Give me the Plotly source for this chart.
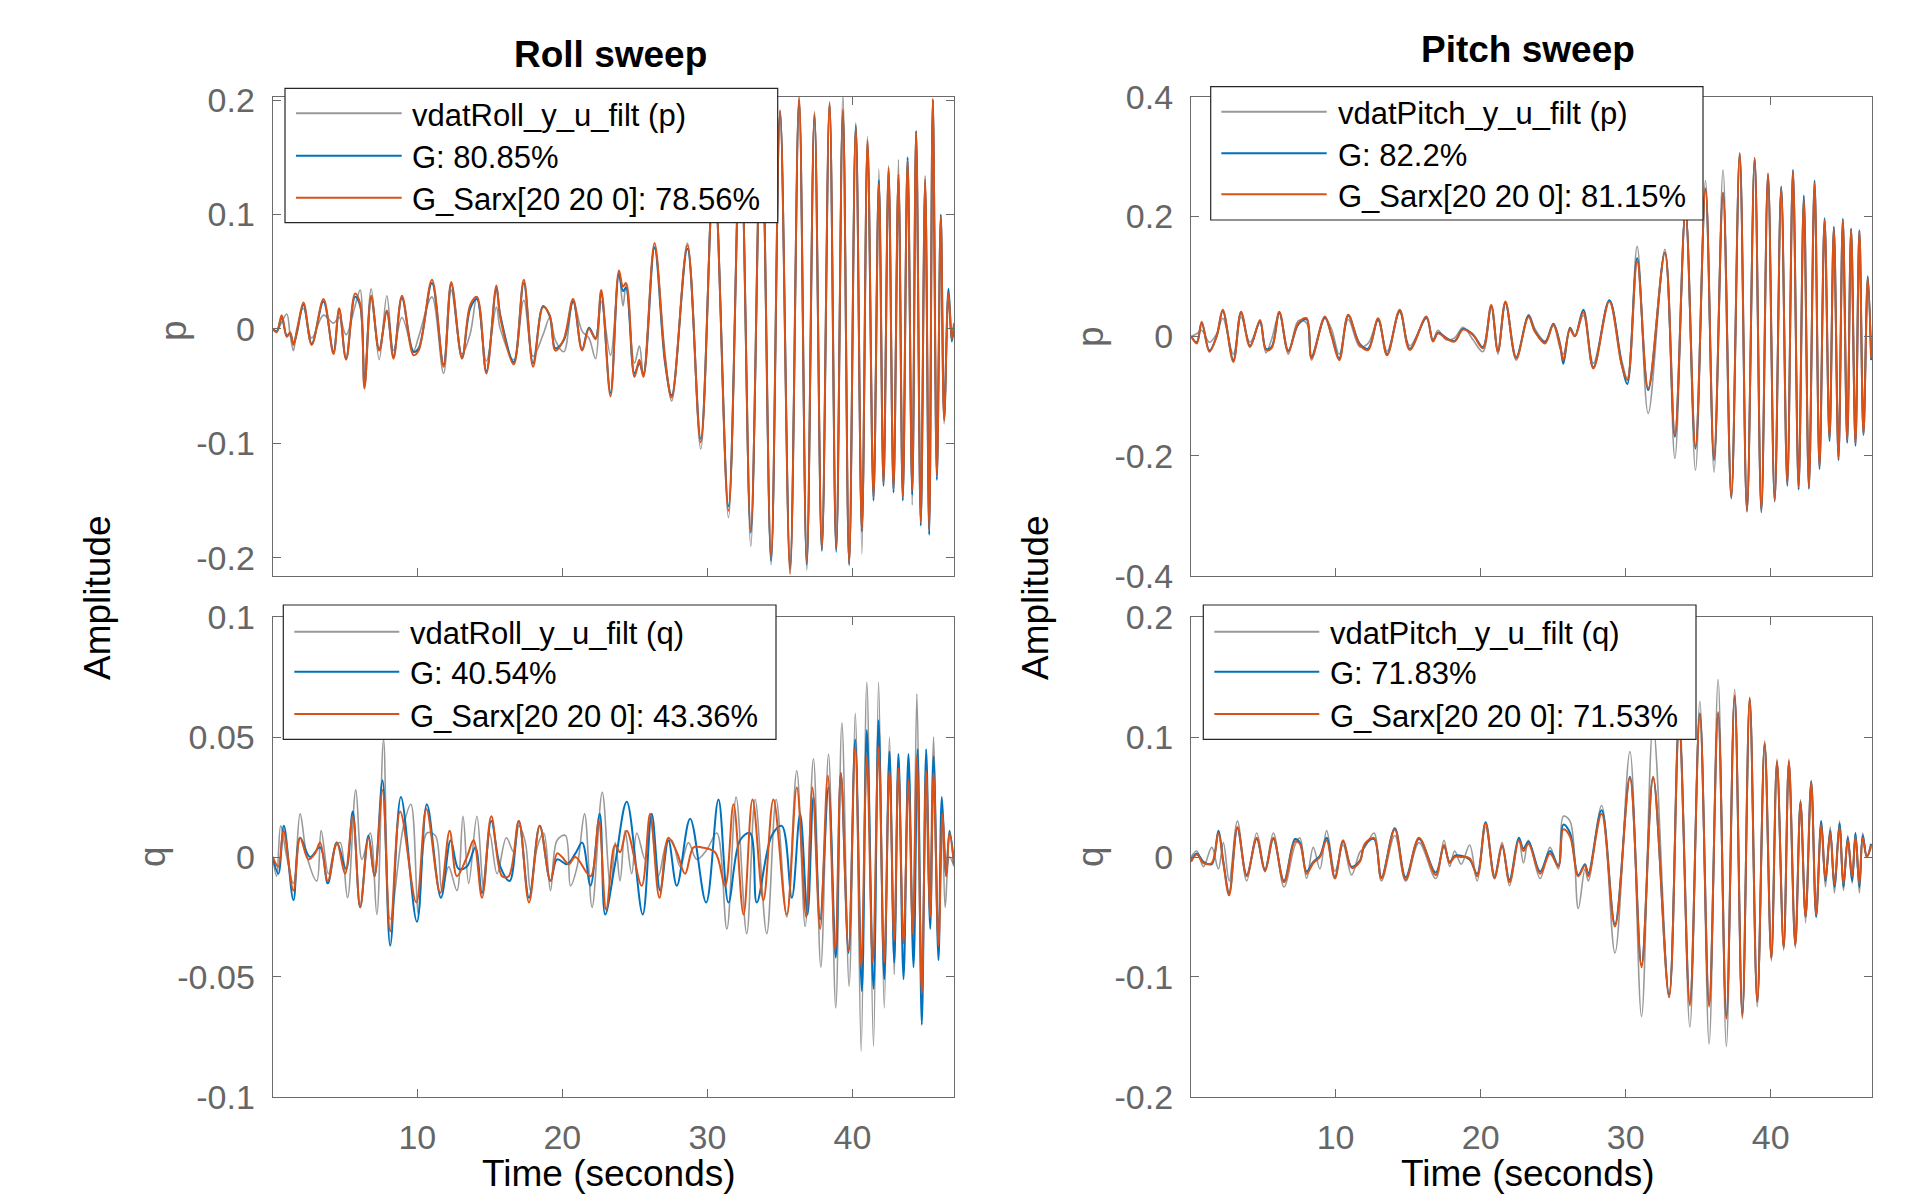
import plotly.graph_objects as go

# ---------------- data ----------------
# Roll sweep, output p
ROLL_P_T = [0.03, 0.31, 0.65, 1.0, 1.23, 1.46, 1.69, 2.15, 2.72, 3.53,
            4.22, 4.61, 5.09, 5.71, 6.06, 6.36, 6.82, 7.37, 7.9, 8.36,
            8.94, 9.74, 10.09, 11.01, 11.81, 12.34, 13.08, 13.65, 14.11, 14.76,
            15.45, 15.72, 16.65, 17.34, 17.98, 18.67, 19.13, 19.52, 20.1, 20.74,
            21.36, 21.83, 22.29, 22.68, 23.32, 23.9, 24.18, 24.39, 24.97, 25.31,
            25.59, 26.35, 27.08, 27.54, 28.62, 29.54, 30.45, 31.45, 32.28, 32.99,
            33.72, 34.39, 35.01, 35.7, 36.32, 36.85, 37.38, 37.89, 38.42, 38.88,
            39.34, 39.77, 40.23, 40.65, 41.04, 41.45, 41.82, 42.14, 42.49, 42.83,
            43.17, 43.47, 43.8, 44.12, 44.39, 44.71, 45.01, 45.29, 45.54, 45.82,
            46.09, 46.32, 46.62, 46.85, 47.0]
ROLL_P_DATA = [0.0, -0.002, 0.006, 0.013, -0.005, -0.019, 0.0, 0.018, -0.008, 0.012,
               0.005, 0.01, -0.005, 0.02, 0.034, -0.042, 0.035, -0.027, 0.029, -0.019,
               0.01, -0.019, -0.007, 0.028, -0.039, 0.034, -0.022, -0.004, 0.028, -0.028,
               0.019, 0.0, -0.027, 0.025, -0.024, -0.005, 0.01, -0.01, -0.02, 0.024,
               -0.002, -0.008, -0.026, 0.024, -0.023, 0.048, 0.02, 0.038, -0.03, -0.015,
               -0.04, 0.072, -0.022, -0.063, 0.075, -0.105, 0.15, -0.165, 0.18, -0.19,
               0.19, -0.206, 0.19, -0.21, 0.2, -0.211, 0.19, -0.194, 0.197, -0.193,
               0.205, -0.207, 0.18, -0.197, 0.168, -0.146, 0.14, -0.138, 0.143, -0.137,
               0.148, -0.147, 0.149, -0.154, 0.173, -0.165, 0.134, -0.175, 0.2, -0.125,
               0.098, -0.083, 0.03, -0.01, 0.003]
ROLL_P_G = [0.0, -0.002, 0.01, -0.006, -0.004, -0.013, -0.004, 0.021, -0.013, 0.024,
            -0.02, 0.017, -0.026, 0.028, 0.02, -0.05, 0.027, -0.018, 0.015, -0.024,
            0.027, -0.02, -0.017, 0.04, -0.031, 0.039, -0.025, 0.018, 0.026, -0.037,
            0.035, 0.012, -0.029, 0.04, -0.03, 0.02, 0.011, -0.017, -0.01, 0.024,
            -0.018, 0.001, -0.008, 0.031, -0.056, 0.048, 0.033, 0.036, -0.039, -0.03,
            -0.04, 0.071, -0.03, -0.058, 0.07, -0.096, 0.14, -0.155, 0.17, -0.178,
            0.19, -0.203, 0.19, -0.21, 0.2, -0.206, 0.186, -0.194, 0.196, -0.195,
            0.19, -0.206, 0.178, -0.177, 0.162, -0.15, 0.13, -0.137, 0.138, -0.143,
            0.132, -0.15, 0.15, -0.145, 0.173, -0.172, 0.128, -0.18, 0.2, -0.132,
            0.1, -0.078, 0.035, -0.011, 0.003]
ROLL_P_SARX = [0.0, -0.003, 0.012, -0.007, -0.003, -0.014, -0.003, 0.023, -0.014, 0.026,
               -0.022, 0.018, -0.027, 0.031, 0.022, -0.052, 0.029, -0.019, 0.016, -0.026,
               0.029, -0.023, -0.019, 0.043, -0.033, 0.041, -0.026, 0.021, 0.028, -0.039,
               0.038, 0.01, -0.031, 0.043, -0.033, 0.019, 0.012, -0.019, -0.009, 0.026,
               -0.019, 0.0, -0.009, 0.034, -0.059, 0.051, 0.037, 0.04, -0.042, -0.027,
               -0.042, 0.075, -0.027, -0.06, 0.073, -0.099, 0.14, -0.159, 0.17, -0.176,
               0.19, -0.2, 0.191, -0.214, 0.203, -0.204, 0.188, -0.192, 0.198, -0.192,
               0.192, -0.205, 0.176, -0.176, 0.165, -0.147, 0.127, -0.135, 0.141, -0.14,
               0.135, -0.147, 0.147, -0.141, 0.172, -0.169, 0.131, -0.175, 0.201, -0.128,
               0.098, -0.08, 0.031, -0.009, 0.005]

# Roll sweep, output q
ROLL_Q_DATA_T = [0.03, 0.3, 0.58, 1.0, 1.46, 1.92, 2.4, 3.07, 3.37, 3.87,
                 4.33, 4.68, 5.19, 5.76, 6.18, 6.75, 7.21, 7.67, 8.13, 9.05,
                 9.56, 10.09, 10.66, 11.24, 11.7, 12.16, 12.73, 13.15, 13.54, 14.11,
                 14.58, 14.99, 15.5, 16.14, 16.65, 17.0, 17.45, 17.8, 18.26, 18.72,
                 19.18, 19.64, 20.21, 20.56, 21.02, 21.53, 22.05, 22.75, 23.32, 23.65,
                 23.98, 24.32, 24.78, 25.13, 25.7, 26.05, 26.62, 27.2, 27.54, 28.12,
                 28.69, 29.27, 29.96, 30.65, 31.34, 31.98, 32.71, 33.29, 34.09, 34.74,
                 35.47, 36.16, 36.74, 37.31, 37.82, 38.35, 38.85, 39.27, 39.77, 40.19,
                 40.6, 40.99, 41.45, 41.8, 42.19, 42.55, 42.88, 43.17, 43.52, 43.86,
                 44.16, 44.44, 44.78, 45.08, 45.31, 45.59, 45.93, 46.21, 46.39, 46.69,
                 47.0]
ROLL_Q_DATA = [0.0, -0.008, 0.013, 0.0, -0.011, 0.018, 0.0, -0.010, 0.011, -0.007,
               0.004, 0.006, -0.017, 0.028, -0.001, 0.010, -0.024, 0.049, -0.026, 0.013,
               0.022, -0.024, 0.010, 0.009, -0.014, -0.004, -0.014, 0.017, -0.011, 0.017,
               -0.014, 0.010, -0.007, 0.008, 0.002, 0.013, 0.006, -0.014, 0.004, 0.010,
               -0.014, 0.007, 0.009, -0.012, -0.004, 0.018, -0.021, 0.027, -0.014, 0.006,
               -0.010, 0.011, -0.007, 0.010, -0.001, 0.017, -0.008, 0.006, 0.007, -0.004,
               0.006, -0.001, 0.003, 0.010, -0.030, 0.025, -0.032, 0.024, -0.032, 0.024,
               -0.025, 0.036, -0.029, 0.041, -0.046, 0.043, -0.063, 0.056, -0.054, 0.060,
               -0.081, 0.073, -0.079, 0.073, -0.063, 0.050, -0.049, 0.043, -0.036, 0.043,
               -0.038, 0.068, -0.046, 0.022, -0.022, 0.050, -0.032, 0.015, -0.021, 0.0,
               -0.004]
ROLL_Q_G_T = [0.03, 0.42, 0.8, 1.46, 1.92, 2.6, 3.3, 3.83, 4.45, 5.09,
              5.55, 6.06, 6.63, 7.05, 7.6, 8.13, 8.87, 9.97, 10.66, 11.63,
              12.3, 12.85, 13.42, 14.0, 14.46, 15.1, 15.72, 16.37, 17.0, 17.7,
              18.44, 19.18, 19.64, 20.33, 20.9, 21.37, 21.94, 22.58, 22.95, 23.63,
              24.44, 25.54, 26.16, 26.74, 27.31, 27.89, 28.81, 29.91, 30.76, 31.45,
              32.25, 32.94, 33.4, 34.44, 35.13, 35.82, 36.39, 36.9, 37.31, 37.77,
              38.35, 38.85, 39.2, 39.73, 40.19, 40.65, 40.99, 41.45, 41.8, 42.19,
              42.55, 42.88, 43.17, 43.52, 43.86, 44.21, 44.49, 44.78, 45.08, 45.36,
              45.59, 45.93, 46.16, 46.46, 46.69, 47.0]
ROLL_Q_G = [0.0, -0.007, 0.013, -0.018, 0.008, 0.0, 0.004, -0.011, 0.006, -0.005,
            0.019, -0.021, 0.009, -0.008, 0.032, -0.037, 0.025, -0.027, 0.022, -0.017,
            0.007, -0.005, -0.004, 0.004, -0.015, 0.015, -0.004, -0.010, 0.015, -0.017,
            0.013, -0.010, -0.001, -0.003, 0.0015, 0.006, -0.012, 0.018, -0.024, -0.003,
            0.023, -0.024, 0.018, -0.014, 0.007, -0.012, 0.016, -0.019, 0.024, -0.019,
            0.007, 0.010, -0.019, 0.009, 0.013, -0.017, 0.018, -0.024, 0.025, -0.026,
            0.029, -0.042, 0.035, -0.040, 0.049, -0.056, 0.053, -0.055, 0.057, -0.051,
            0.044, -0.044, 0.043, -0.051, 0.043, -0.046, 0.045, -0.070, 0.045, -0.030,
            0.042, -0.043, 0.025, -0.008, 0.011, -0.003]
ROLL_Q_SARX_T = [0.03, 0.42, 0.77, 1.46, 1.92, 2.49, 2.95, 3.30, 3.83, 4.45,
                 5.02, 5.55, 6.06, 6.63, 7.05, 7.6, 8.13, 8.82, 9.93, 10.62,
                 11.58, 12.23, 12.73, 13.42, 13.88, 14.46, 15.1, 15.84, 16.3, 17.0,
                 17.7, 18.44, 19.18, 19.64, 19.98, 20.44, 20.9, 21.94, 22.51, 23.02,
                 23.63, 23.98, 24.44, 25.47, 26.05, 26.69, 27.31, 27.89, 28.46, 29.04,
                 29.61, 30.53, 31.22, 31.8, 32.49, 33.11, 33.86, 34.55, 35.47, 36.16,
                 36.81, 37.24, 37.77, 38.3, 38.81, 39.2, 39.73, 40.19, 40.6, 40.99,
                 41.4, 41.8, 42.19, 42.55, 42.88, 43.17, 43.52, 43.86, 44.16, 44.44,
                 44.78, 45.08, 45.36, 45.59, 45.93, 46.21, 46.46, 46.69, 47.0]
ROLL_Q_SARX = [0.0, -0.004, 0.011, -0.014, 0.008, -0.001, 0.0015, 0.006, -0.010, 0.006,
               -0.007, 0.017, -0.021, 0.008, -0.008, 0.028, -0.031, 0.019, -0.019, 0.020,
               -0.015, 0.011, -0.008, 0.0, 0.007, -0.017, 0.017, -0.008, -0.008, 0.015,
               -0.019, 0.013, -0.010, 0.0015, 0.0, -0.003, 0.0, -0.008, 0.015, -0.022,
               0.005, 0.002, 0.011, -0.012, 0.018, -0.017, 0.008, 0.002, -0.007, 0.004,
               0.004, 0.002, -0.012, 0.022, -0.024, 0.024, -0.018, 0.024, -0.024, 0.029,
               -0.025, 0.029, -0.030, 0.034, -0.039, 0.035, -0.039, 0.046, -0.046, 0.042,
               -0.044, 0.046, -0.044, 0.036, -0.035, 0.037, -0.036, 0.032, -0.032, 0.042,
               -0.057, 0.036, -0.025, 0.035, -0.037, 0.018, -0.008, 0.010, -0.003]

# Pitch sweep, output p
PITCH_P_T = [0.04, 0.43, 0.77, 1.3, 1.8, 2.22, 2.95, 3.48, 4.1, 4.79,
             5.2, 5.59, 6.12, 6.74, 7.43, 8.0, 8.34, 9.26, 9.72, 10.25,
             10.87, 11.67, 12.24, 12.93, 13.55, 14.42, 15.11, 16.26, 16.71, 17.06,
             17.63, 18.2, 18.78, 19.47, 20.15, 20.73, 21.19, 21.71, 22.45, 23.3,
             23.75, 24.44, 25.01, 25.47, 25.7, 26.16, 26.5, 27.08, 27.77, 28.87,
             29.72, 30.11, 30.79, 31.55, 32.7, 33.39, 34.12, 34.81, 35.5, 36.09,
             36.71, 37.28, 37.86, 38.36, 38.89, 39.35, 39.81, 40.27, 40.72, 41.14,
             41.53, 41.92, 42.28, 42.63, 43.02, 43.36, 43.71, 44.05, 44.35, 44.67,
             44.97, 45.27, 45.54, 45.84, 46.11, 46.39, 46.69, 46.92]
PITCH_P_DATA = [0.0, 0.004, 0.01, -0.01, 0.004, 0.03, -0.03, 0.032, -0.01, 0.022,
                -0.028, -0.005, 0.038, -0.03, 0.026, 0.022, -0.04, 0.03, 0.012, -0.03,
                0.028, -0.018, -0.012, 0.026, -0.025, 0.04, -0.016, 0.03, -0.006, 0.01,
                -0.006, -0.003, 0.015, -0.006, -0.026, 0.05, -0.03, 0.055, -0.04, 0.036,
                0.012, -0.008, 0.018, -0.02, -0.03, 0.01, 0.0, 0.035, -0.045, 0.06,
                -0.04, -0.07, 0.15, -0.129, 0.145, -0.204, 0.215, -0.224, 0.26, -0.227,
                0.278, -0.265, 0.3, -0.29, 0.295, -0.288, 0.27, -0.27, 0.25, -0.242,
                0.27, -0.25, 0.225, -0.248, 0.25, -0.215, 0.19, -0.165, 0.178, -0.2,
                0.19, -0.17, 0.175, -0.178, 0.172, -0.16, 0.095, -0.035]
PITCH_P_G = [0.0, -0.01, 0.022, -0.024, 0.0, 0.042, -0.04, 0.039, -0.016, 0.025,
             -0.021, -0.018, 0.039, -0.024, 0.02, 0.028, -0.034, 0.031, 0.002, -0.037,
             0.034, -0.013, -0.021, 0.028, -0.03, 0.042, -0.021, 0.031, -0.008, 0.006,
             -0.003, -0.008, 0.012, 0.003, -0.018, 0.05, -0.024, 0.056, -0.035, 0.034,
             0.008, -0.01, 0.021, -0.013, -0.046, 0.014, 0.0, 0.044, -0.052, 0.06,
             -0.046, -0.08, 0.13, -0.09, 0.14, -0.168, 0.21, -0.188, 0.245, -0.207,
             0.24, -0.271, 0.305, -0.293, 0.297, -0.294, 0.27, -0.276, 0.25, -0.25,
             0.278, -0.256, 0.235, -0.255, 0.26, -0.222, 0.197, -0.175, 0.183, -0.207,
             0.196, -0.178, 0.18, -0.183, 0.177, -0.165, 0.1, -0.04]
PITCH_P_SARX = [0.0, -0.012, 0.024, -0.026, 0.0, 0.044, -0.043, 0.041, -0.018, 0.027,
                -0.023, -0.02, 0.041, -0.026, 0.022, 0.030, -0.037, 0.033, 0.0, -0.040,
                0.036, -0.015, -0.023, 0.030, -0.032, 0.044, -0.023, 0.033, -0.009, 0.005,
                -0.004, -0.009, 0.011, 0.002, -0.020, 0.052, -0.026, 0.058, -0.037, 0.032,
                0.007, -0.012, 0.019, -0.015, -0.040, 0.012, 0.0, 0.040, -0.054, 0.058,
                -0.048, -0.073, 0.125, -0.087, 0.139, -0.165, 0.208, -0.185, 0.247, -0.204,
                0.239, -0.269, 0.306, -0.291, 0.298, -0.291, 0.272, -0.274, 0.247, -0.246,
                0.275, -0.252, 0.228, -0.252, 0.256, -0.218, 0.194, -0.171, 0.180, -0.204,
                0.194, -0.174, 0.178, -0.179, 0.175, -0.163, 0.097, -0.037]

# Pitch sweep, output q
PITCH_Q_T = [0.04, 0.43, 0.89, 1.46, 1.92, 2.26, 2.66, 3.23, 3.87, 4.56,
             5.13, 5.71, 6.44, 7.2, 7.54, 8.0, 8.46, 8.92, 9.38, 9.95,
             10.52, 11.1, 11.67, 12.01, 12.65, 13.16, 14.08, 14.83, 15.75, 16.9,
             17.47, 17.86, 18.21, 18.66, 19.24, 19.76, 20.34, 20.96, 21.48, 21.99,
             22.63, 22.95, 23.3, 24.1, 24.78, 25.36, 25.7, 26.16, 26.73, 27.19,
             27.42, 28.34, 29.26, 30.29, 31.09, 31.89, 32.99, 33.68, 34.42, 35.11,
             35.75, 36.37, 36.94, 37.51, 38.04, 38.55, 39.07, 39.58, 40.04, 40.43,
             40.89, 41.25, 41.69, 42.05, 42.4, 42.79, 43.13, 43.48, 43.77, 44.1,
             44.39, 44.74, 45.01, 45.31, 45.61, 45.84, 46.11, 46.34, 46.62, 46.92]
PITCH_Q_DATA = [0.0, 0.005, -0.008, 0.008, -0.01, 0.012, -0.02, 0.03, -0.02, 0.02,
                -0.01, 0.02, -0.025, 0.01, 0.016, -0.018, 0.008, -0.01, 0.022, -0.012,
                0.01, -0.015, 0.004, 0.008, 0.02, -0.02, 0.018, -0.02, 0.012, -0.018,
                0.014, -0.008, 0.005, -0.006, 0.01, -0.02, 0.025, -0.015, 0.012, -0.024,
                0.015, -0.005, 0.014, -0.018, 0.008, -0.01, 0.034, 0.03, -0.043, -0.01,
                -0.02, 0.043, -0.08, 0.088, -0.133, 0.11, -0.117, 0.125, -0.142, 0.13,
                -0.156, 0.148, -0.158, 0.14, -0.135, 0.13, -0.125, 0.097, -0.087, 0.082,
                -0.078, 0.082, -0.076, 0.048, -0.055, 0.064, -0.05, 0.03, -0.025, 0.025,
                -0.03, 0.03, -0.028, 0.018, -0.022, 0.02, -0.03, 0.02, 0.0, 0.008]
PITCH_Q_G = [-0.003, 0.003, -0.004, -0.006, 0.022, -0.004, -0.03, 0.024, -0.015, 0.015,
             -0.011, 0.015, -0.02, 0.015, 0.012, -0.012, -0.004, 0.001, 0.016, -0.017,
             0.013, -0.008, -0.003, 0.01, 0.015, -0.017, 0.024, -0.017, 0.015, -0.013,
             0.009, -0.004, 0.001, 0.001, -0.002, -0.014, 0.029, -0.017, 0.009, -0.019,
             0.016, 0.007, 0.013, -0.012, 0.005, -0.007, 0.027, 0.02, -0.015, -0.006,
             -0.014, 0.039, -0.056, 0.067, -0.09, 0.066, -0.115, 0.11, -0.122, 0.12,
             -0.123, 0.12, -0.133, 0.134, -0.131, 0.132, -0.12, 0.094, -0.084, 0.079,
             -0.075, 0.079, -0.073, 0.046, -0.05, 0.063, -0.05, 0.03, -0.02, 0.022,
             -0.025, 0.028, -0.025, 0.016, -0.02, 0.02, -0.025, 0.018, 0.0, 0.011]
PITCH_Q_SARX = [-0.004, 0.002, -0.005, -0.005, 0.020, -0.005, -0.032, 0.025, -0.016, 0.016,
                -0.012, 0.016, -0.021, 0.013, 0.011, -0.014, -0.005, 0.0, 0.014, -0.018,
                0.014, -0.009, -0.004, 0.011, 0.016, -0.018, 0.023, -0.019, 0.016, -0.015,
                0.010, -0.005, 0.0, 0.0, -0.001, -0.016, 0.028, -0.018, 0.010, -0.021,
                0.014, 0.005, 0.011, -0.014, 0.003, -0.008, 0.023, 0.017, -0.016, -0.007,
                -0.016, 0.036, -0.058, 0.066, -0.092, 0.067, -0.117, 0.11, -0.124, 0.119,
                -0.125, 0.121, -0.135, 0.135, -0.133, 0.133, -0.121, 0.095, -0.085, 0.080,
                -0.076, 0.080, -0.074, 0.045, -0.050, 0.062, -0.048, 0.027, -0.018, 0.020,
                -0.023, 0.025, -0.022, 0.014, -0.016, 0.017, -0.022, 0.016, 0.0, 0.010]

X_TICKS = [10, 20, 30, 40]
X_TICK_TEXT = ["10", "20", "30", "40"]
Y_TICKS_ROLL_P = [-0.2, -0.1, 0, 0.1, 0.2]
Y_TICKS_ROLL_Q = [-0.1, -0.05, 0, 0.05, 0.1]
Y_TICKS_PITCH_P = [-0.4, -0.2, 0, 0.2, 0.4]
Y_TICKS_PITCH_Q = [-0.2, -0.1, 0, 0.1, 0.2]
Y_TEXT_ROLL_P = ["-0.2", "-0.1", "0", "0.1", "0.2"]
Y_TEXT_ROLL_Q = ["-0.1", "-0.05", "0", "0.05", "0.1"]
Y_TEXT_PITCH_P = ["-0.4", "-0.2", "0", "0.2", "0.4"]
Y_TEXT_PITCH_Q = ["-0.2", "-0.1", "0", "0.1", "0.2"]

LEGEND_ROLL_P = ["vdatRoll_y_u_filt (p)", "G: 80.85%", "G_Sarx[20 20 0]: 78.56%"]
LEGEND_ROLL_Q = ["vdatRoll_y_u_filt (q)", "G: 40.54%", "G_Sarx[20 20 0]: 43.36%"]
LEGEND_PITCH_P = ["vdatPitch_y_u_filt (p)", "G: 82.2%", "G_Sarx[20 20 0]: 81.15%"]
LEGEND_PITCH_Q = ["vdatPitch_y_u_filt (q)", "G: 71.83%", "G_Sarx[20 20 0]: 71.53%"]

# ---------------- styling / layout ----------------
W, H = 1905, 1197
FONT = "Liberation Sans, Arial, Helvetica, sans-serif"
GRAY = "#999999"
BLUE = "#0072BD"
ORANGE = "#D95319"
AXC = "#6b6b6b"
TICKC = "#666666"


def fx(x):
    return x / W


def fy(y):
    return 1 - y / H


panels = [
    dict(k="", box=(272.7, 96.7, 954.0, 575.7), yr=[-0.2157, 0.2029],
         yt=Y_TICKS_ROLL_P, ytt=Y_TEXT_ROLL_P, xlab=False,
         series=[(ROLL_P_T, ROLL_P_DATA), (ROLL_P_T, ROLL_P_G), (ROLL_P_T, ROLL_P_SARX)],
         leg=LEGEND_ROLL_P, lbox=(285, 88.3, 777.7, 222.7), lx=(296, 401.7, 410),
         ly=[113.3, 155.7, 197.7]),
    dict(k="2", box=(272.7, 617.3, 954.0, 1096.7), yr=[-0.1, 0.1],
         yt=Y_TICKS_ROLL_Q, ytt=Y_TEXT_ROLL_Q, xlab=True,
         series=[(ROLL_Q_DATA_T, ROLL_Q_DATA), (ROLL_Q_G_T, ROLL_Q_G), (ROLL_Q_SARX_T, ROLL_Q_SARX)],
         leg=LEGEND_ROLL_Q, lbox=(283.3, 605, 776, 739.3), lx=(294.3, 399.3, 408.3),
         ly=[631.7, 671.7, 714]),
    dict(k="3", box=(1191.0, 96.7, 1872.3, 575.7), yr=[-0.4, 0.4],
         yt=Y_TICKS_PITCH_P, ytt=Y_TEXT_PITCH_P, xlab=False,
         series=[(PITCH_P_T, PITCH_P_DATA), (PITCH_P_T, PITCH_P_G), (PITCH_P_T, PITCH_P_SARX)],
         leg=LEGEND_PITCH_P, lbox=(1210.7, 86.7, 1703, 220), lx=(1221.3, 1326.7, 1335.7),
         ly=[111.7, 153.3, 194.3]),
    dict(k="4", box=(1191.0, 617.3, 1872.3, 1096.7), yr=[-0.2, 0.2],
         yt=Y_TICKS_PITCH_Q, ytt=Y_TEXT_PITCH_Q, xlab=True,
         series=[(PITCH_Q_T, PITCH_Q_DATA), (PITCH_Q_T, PITCH_Q_G), (PITCH_Q_T, PITCH_Q_SARX)],
         leg=LEGEND_PITCH_Q, lbox=(1203.3, 605, 1696, 739.3), lx=(1214.3, 1319.3, 1328.3),
         ly=[631.7, 671.7, 714]),
]

colors = [GRAY, BLUE, ORANGE]
widths = [1.6, 2.0, 2.0]

fig = go.Figure()
layout = dict(width=W, height=H, margin=dict(l=0, r=0, t=0, b=0, pad=0, autoexpand=False),
              paper_bgcolor="white", plot_bgcolor="white", showlegend=False,
              font=dict(family=FONT))
shapes = []
annotations = []

for p in panels:
    k = p["k"]
    x0, y0, x1, y1 = p["box"]
    for (t, v), c, w in zip(p["series"], colors, widths):
        fig.add_trace(go.Scatter(x=t, y=v, mode="lines",
                                 line=dict(color=c, width=w, shape="spline", smoothing=1.0),
                                 xaxis="x" + k, yaxis="y" + k, hoverinfo="skip"))
    layout["xaxis" + k] = dict(
        domain=[fx(x0), fx(x1)], range=[0.03, 47.0], anchor="y" + k, automargin=False,
        tickvals=X_TICKS, ticktext=X_TICK_TEXT, showticklabels=p["xlab"],
        ticks="inside", ticklen=8, tickwidth=1, tickcolor=AXC,
        showline=True, linecolor=AXC, linewidth=1.2, mirror="ticks",
        showgrid=False, zeroline=False, ticklabelstandoff=10,
        tickfont=dict(family=FONT, size=34, color=TICKC))
    layout["yaxis" + k] = dict(
        domain=[fy(y1), fy(y0)], range=p["yr"], anchor="x" + k, automargin=False,
        tickvals=p["yt"], ticktext=p["ytt"],
        ticks="inside", ticklen=8, tickwidth=1, tickcolor=AXC,
        showline=True, linecolor=AXC, linewidth=1.2, mirror="ticks",
        showgrid=False, zeroline=False, ticklabelstandoff=10,
        tickfont=dict(family=FONT, size=34, color=TICKC))
    # legend box
    lx0, ly0, lx1, ly1 = p["lbox"]
    shapes.append(dict(type="rect", xref="paper", yref="paper", layer="above",
                       x0=fx(lx0), x1=fx(lx1), y0=fy(ly1), y1=fy(ly0),
                       fillcolor="white", line=dict(color="#262626", width=1.2)))
    sx0, sx1, tx = p["lx"]
    for yy, c, txt in zip(p["ly"], colors, p["leg"]):
        shapes.append(dict(type="line", xref="paper", yref="paper", layer="above",
                           x0=fx(sx0), x1=fx(sx1), y0=fy(yy), y1=fy(yy),
                           line=dict(color=c, width=2)))
        annotations.append(dict(text=txt, xref="paper", yref="paper",
                                x=fx(tx), y=fy(yy + 2), xanchor="left", yanchor="middle",
                                showarrow=False, font=dict(family=FONT, size=31, color="black")))

layout["shapes"] = shapes


def ann(text, x, y, size, color="black", angle=0):
    annotations.append(dict(text=text, xref="paper", yref="paper", x=fx(x), y=fy(y),
                            xanchor="center", yanchor="middle", showarrow=False,
                            textangle=angle, font=dict(family=FONT, size=size, color=color)))


ann("<b>Roll sweep</b>", 610, 55, 37)
ann("<b>Pitch sweep</b>", 1528, 49, 37)
ann("Time (seconds)", 609, 1173, 37)
ann("Time (seconds)", 1528, 1173, 37)
ann("Amplitude", 97, 598, 37, angle=-90)
ann("Amplitude", 1035, 598, 37, angle=-90)
ann("p", 174, 331, 37, color=TICKC, angle=-90)
ann("q", 152, 857, 37, color=TICKC, angle=-90)
ann("p", 1090, 337, 37, color=TICKC, angle=-90)
ann("q", 1090, 857, 37, color=TICKC, angle=-90)

layout["annotations"] = annotations
fig.update_layout(**layout)

fig.write_html("out.html", config={"displayModeBar": False},
               post_script="document.body.style.margin='0';document.body.style.overflow='hidden';")
